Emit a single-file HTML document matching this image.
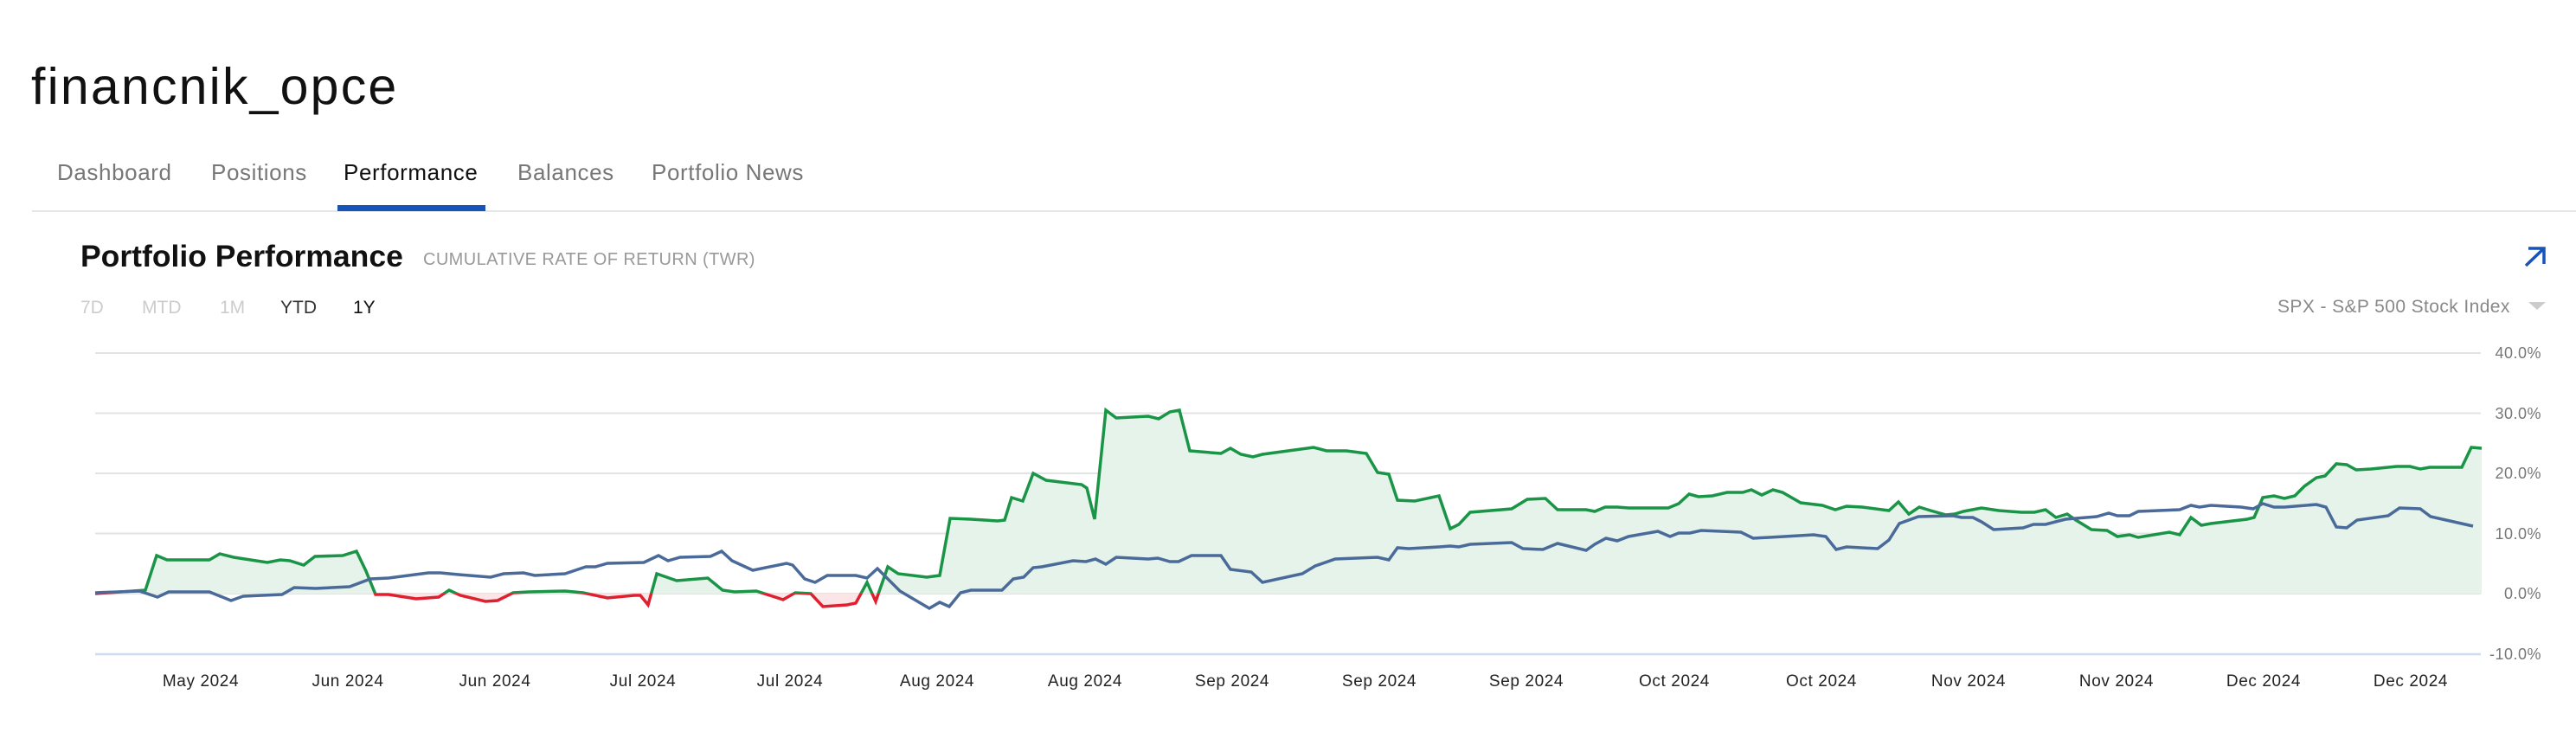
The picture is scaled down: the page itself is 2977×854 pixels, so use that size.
<!DOCTYPE html>
<html><head><meta charset="utf-8"><style>
html,body{margin:0;padding:0;background:#fff;}
body{width:2977px;height:854px;position:relative;overflow:hidden;font-family:"Liberation Sans",sans-serif;}
.a{position:absolute;white-space:nowrap;}
</style></head><body>
<div class="a" style="left:36px;top:66px;font-size:59px;color:#111;letter-spacing:2.2px;">financnik_opce</div>
<div class="a" style="left:66px;top:184px;font-size:26px;color:#777;letter-spacing:0.6px;">Dashboard</div>
<div class="a" style="left:244px;top:184px;font-size:26px;color:#777;letter-spacing:0.6px;">Positions</div>
<div class="a" style="left:397px;top:184px;font-size:26px;color:#111;letter-spacing:0.6px;">Performance</div>
<div class="a" style="left:598px;top:184px;font-size:26px;color:#777;letter-spacing:0.6px;">Balances</div>
<div class="a" style="left:753px;top:184px;font-size:26px;color:#777;letter-spacing:0.6px;">Portfolio News</div>
<div class="a" style="left:37px;top:243px;width:2940px;height:2px;background:#e6e6e6;"></div>
<div class="a" style="left:390px;top:237px;width:171px;height:7px;background:#1754b8;"></div>
<div class="a" style="left:93px;top:276px;font-size:35.5px;color:#111;font-weight:bold;">Portfolio Performance</div>
<div class="a" style="left:489px;top:289px;font-size:20px;color:#999;letter-spacing:0.4px;">CUMULATIVE RATE OF RETURN (TWR)</div>
<div class="a" style="left:93px;top:344px;font-size:21px;color:#ccc;">7D</div>
<div class="a" style="left:164px;top:344px;font-size:21px;color:#ccc;">MTD</div>
<div class="a" style="left:254px;top:344px;font-size:21px;color:#ccc;">1M</div>
<div class="a" style="left:324px;top:344px;font-size:21px;color:#333;">YTD</div>
<div class="a" style="left:408px;top:344px;font-size:21px;color:#111;">1Y</div>
<div class="a" style="left:2632px;top:343px;font-size:21px;color:#888;letter-spacing:0.4px;">SPX - S&amp;P 500 Stock Index</div>
<svg class="a" style="left:0;top:0" width="2977" height="854">
<path d="M2919 307 L2940 287 M2922 287 L2940 287 L2940 305" stroke="#1754b8" stroke-width="3.5" fill="none"/>
<polygon points="2922,349 2942,349 2932,358" fill="#ccc"/>
<g stroke="#e3e3e3" stroke-width="2">
<line x1="110" x2="2867" y1="408" y2="408"/><line x1="110" x2="2867" y1="477.5" y2="477.5"/>
<line x1="110" x2="2867" y1="547" y2="547"/><line x1="110" x2="2867" y1="616.5" y2="616.5"/>
<line x1="110" x2="2867" y1="686" y2="686"/></g>
<line x1="110" x2="2867" y1="756" y2="756" stroke="#cddcf0" stroke-width="2.5"/>
<g font-size="18" fill="#777" text-anchor="end" letter-spacing="0.5">
<text x="2937" y="414">40.0%</text><text x="2937" y="484">30.0%</text><text x="2937" y="553">20.0%</text>
<text x="2937" y="623">10.0%</text><text x="2937" y="692">0.0%</text><text x="2937" y="762">-10.0%</text></g>
<g font-size="19" fill="#222" text-anchor="middle" letter-spacing="0.6">
<text x="232" y="793">May 2024</text><text x="402" y="793">Jun 2024</text><text x="572" y="793">Jun 2024</text>
<text x="743" y="793">Jul 2024</text><text x="913" y="793">Jul 2024</text><text x="1083" y="793">Aug 2024</text>
<text x="1254" y="793">Aug 2024</text><text x="1424" y="793">Sep 2024</text><text x="1594" y="793">Sep 2024</text>
<text x="1764" y="793">Sep 2024</text><text x="1935" y="793">Oct 2024</text><text x="2105" y="793">Oct 2024</text>
<text x="2275" y="793">Nov 2024</text><text x="2446" y="793">Nov 2024</text><text x="2616" y="793">Dec 2024</text>
<text x="2786" y="793">Dec 2024</text></g>
<defs>
<clipPath id="up"><rect x="0" y="0" width="2977" height="686"/></clipPath>
<clipPath id="dn"><rect x="0" y="686" width="2977" height="200"/></clipPath>
<path id="g" d="M110 686 L168 682 L181 642 L193 647 L242 647 L254 640 L270 644 L309 650 L324 647 L335 648 L351 653 L364 643 L396 642 L412 637 L423 660 L434 687 L449 687 L481 692 L507 690 L519 682 L532 688 L561 695 L575 694 L593 685 L611 684 L653 683 L674 685 L702 691 L733 688 L740 688 L749 699 L759 663 L782 671 L818 668 L835 682 L849 684 L874 683 L905 693 L919 685 L937 686 L951 701 L979 699 L989 697 L1002 673 L1012 695 L1026 655 L1038 663 L1071 667 L1086 665 L1098 599 L1122 600 L1153 602 L1161 601 L1169 575 L1182 579 L1194 547 L1209 555 L1250 560 L1256 564 L1265 600 L1278 474 L1290 483 L1327 481 L1339 484 L1352 476 L1363 474 L1375 521 L1411 524 L1422 518 L1434 525 L1448 528 L1459 525 L1518 517 L1533 521 L1556 521 L1579 524 L1592 546 L1605 548 L1615 578 L1635 579 L1663 573 L1676 611 L1686 606 L1699 592 L1747 588 L1765 577 L1786 576 L1800 589 L1833 589 L1843 591 L1855 586 L1869 586 L1882 587 L1928 587 L1940 582 L1952 571 L1963 574 L1979 573 L1996 569 L2014 569 L2024 566 L2036 572 L2049 566 L2060 569 L2081 581 L2106 584 L2121 589 L2134 585 L2152 586 L2183 590 L2194 580 L2206 594 L2218 586 L2231 590 L2249 595 L2259 594 L2269 591 L2290 587 L2310 590 L2336 592 L2351 592 L2364 589 L2376 598 L2389 594 L2399 601 L2417 612 L2435 613 L2447 620 L2461 618 L2471 621 L2507 615 L2519 618 L2532 598 L2544 607 L2555 605 L2597 600 L2605 598 L2615 575 L2628 573 L2640 576 L2652 573 L2663 562 L2677 552 L2687 550 L2700 536 L2712 537 L2723 543 L2740 542 L2770 539 L2785 539 L2797 542 L2808 540 L2845 540 L2856 517 L2868 518"/>
</defs>
<g clip-path="url(#up)"><path d="M110 686 L168 682 L181 642 L193 647 L242 647 L254 640 L270 644 L309 650 L324 647 L335 648 L351 653 L364 643 L396 642 L412 637 L423 660 L434 687 L449 687 L481 692 L507 690 L519 682 L532 688 L561 695 L575 694 L593 685 L611 684 L653 683 L674 685 L702 691 L733 688 L740 688 L749 699 L759 663 L782 671 L818 668 L835 682 L849 684 L874 683 L905 693 L919 685 L937 686 L951 701 L979 699 L989 697 L1002 673 L1012 695 L1026 655 L1038 663 L1071 667 L1086 665 L1098 599 L1122 600 L1153 602 L1161 601 L1169 575 L1182 579 L1194 547 L1209 555 L1250 560 L1256 564 L1265 600 L1278 474 L1290 483 L1327 481 L1339 484 L1352 476 L1363 474 L1375 521 L1411 524 L1422 518 L1434 525 L1448 528 L1459 525 L1518 517 L1533 521 L1556 521 L1579 524 L1592 546 L1605 548 L1615 578 L1635 579 L1663 573 L1676 611 L1686 606 L1699 592 L1747 588 L1765 577 L1786 576 L1800 589 L1833 589 L1843 591 L1855 586 L1869 586 L1882 587 L1928 587 L1940 582 L1952 571 L1963 574 L1979 573 L1996 569 L2014 569 L2024 566 L2036 572 L2049 566 L2060 569 L2081 581 L2106 584 L2121 589 L2134 585 L2152 586 L2183 590 L2194 580 L2206 594 L2218 586 L2231 590 L2249 595 L2259 594 L2269 591 L2290 587 L2310 590 L2336 592 L2351 592 L2364 589 L2376 598 L2389 594 L2399 601 L2417 612 L2435 613 L2447 620 L2461 618 L2471 621 L2507 615 L2519 618 L2532 598 L2544 607 L2555 605 L2597 600 L2605 598 L2615 575 L2628 573 L2640 576 L2652 573 L2663 562 L2677 552 L2687 550 L2700 536 L2712 537 L2723 543 L2740 542 L2770 539 L2785 539 L2797 542 L2808 540 L2845 540 L2856 517 L2868 518 L2868 686 Z" fill="#e5f3ea"/>
<use href="#g" fill="none" stroke="#1a9446" stroke-width="3.5"/></g>
<g clip-path="url(#dn)"><path d="M110 686 L168 682 L181 642 L193 647 L242 647 L254 640 L270 644 L309 650 L324 647 L335 648 L351 653 L364 643 L396 642 L412 637 L423 660 L434 687 L449 687 L481 692 L507 690 L519 682 L532 688 L561 695 L575 694 L593 685 L611 684 L653 683 L674 685 L702 691 L733 688 L740 688 L749 699 L759 663 L782 671 L818 668 L835 682 L849 684 L874 683 L905 693 L919 685 L937 686 L951 701 L979 699 L989 697 L1002 673 L1012 695 L1026 655 L1040 686 Z" fill="#fbe5e6"/>
<use href="#g" fill="none" stroke="#e0202e" stroke-width="3.5"/></g>
<path d="M110 685 L161 683 L182 690 L195 684 L242 684 L267 694 L281 689 L326 687 L340 679 L365 680 L404 678 L428 669 L449 668 L495 662 L509 662 L530 664 L567 667 L582 663 L605 662 L618 665 L653 663 L677 655 L688 655 L702 651 L744 650 L761 642 L772 648 L786 644 L821 643 L834 637 L846 648 L870 659 L909 651 L916 653 L930 669 L942 673 L956 665 L989 665 L1002 668 L1014 657 L1040 683 L1074 703 L1086 696 L1097 701 L1110 685 L1122 682 L1158 682 L1171 669 L1183 667 L1194 656 L1204 655 L1240 648 L1255 649 L1266 646 L1278 652 L1290 644 L1327 646 L1338 645 L1352 649 L1362 649 L1377 642 L1411 642 L1422 658 L1446 661 L1459 673 L1505 663 L1520 654 L1543 646 L1592 644 L1605 647 L1615 633 L1628 634 L1663 632 L1676 631 L1686 632 L1699 629 L1747 627 L1760 634 L1783 635 L1800 628 L1833 636 L1843 629 L1856 622 L1869 625 L1882 620 L1916 614 L1930 620 L1940 616 L1953 616 L1966 613 L2012 615 L2026 622 L2045 621 L2096 618 L2110 620 L2122 635 L2134 632 L2170 634 L2183 624 L2195 605 L2217 597 L2257 596 L2267 598 L2280 598 L2290 603 L2304 612 L2338 610 L2350 606 L2364 606 L2387 600 L2423 597 L2437 593 L2447 596 L2461 596 L2471 591 L2519 589 L2532 584 L2542 586 L2555 584 L2590 586 L2604 588 L2615 582 L2628 586 L2640 586 L2677 583 L2688 586 L2700 609 L2712 610 L2724 601 L2760 596 L2773 587 L2797 588 L2809 597 L2858 608" fill="none" stroke="#4a6a9a" stroke-width="3.5"/>
</svg>
</body></html>
